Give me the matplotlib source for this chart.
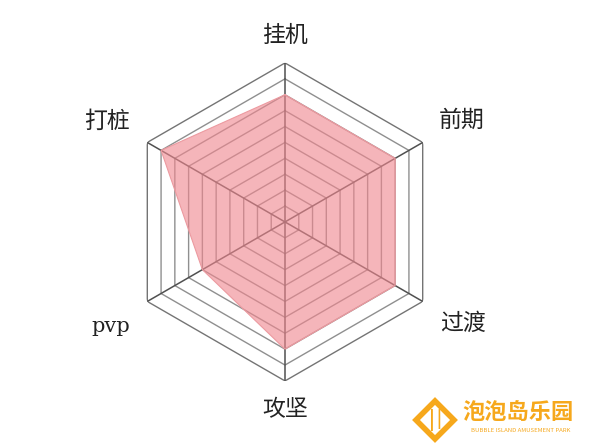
import numpy as np
import matplotlib.pyplot as plt
from matplotlib.patches import Polygon
from matplotlib.font_manager import FontProperties

labels = ["挂机", "前期", "过渡", "攻坚", "pvp", "打桩"]
values = [8, 8, 8, 8, 6, 9]
levels = list(range(1, 11))
r_max = 10

plt.rcParams['font.family'] = ['Noto Sans CJK SC', 'DejaVu Sans']

fig = plt.figure(figsize=(6, 4.43), dpi=100)
ax = fig.add_axes([0.21, 0.14, 0.53, 0.718], projection='polar')
ax.set_theta_offset(np.pi / 2)
ax.set_theta_direction(-1)
ax.set_ylim(0, r_max)
ax.grid(False)
ax.set_xticks([])
ax.set_yticks([])
ax.spines['polar'].set_visible(False)
ax.patch.set_alpha(0)

theta = np.arange(len(labels)) * 2 * np.pi / len(labels)
theta_closed = np.append(theta, theta[0])

# hexagon rings
for lv in levels:
    col = '#8f8f8f' if lv < r_max else '#747474'
    ax.plot(theta_closed, [lv] * len(theta_closed), color=col, lw=1.0, zorder=1)

# spokes
for t in theta:
    ax.plot([t, t], [0, r_max], color='#505050', lw=1.1, zorder=1)

vals = values + values[:1]
ax.fill(theta_closed, vals, color='#f08890', alpha=0.62, zorder=2, lw=0)
ax.plot(theta_closed, vals, color='#ec9aa0', lw=0.8, zorder=3)

# axis labels (placed in pixel positions like the original)
label_pos = {
    "挂机": (285, 35), "前期": (462, 120), "过渡": (463, 323),
    "攻坚": (285, 410), "pvp": (111, 327), "打桩": (107, 121),
}
serif = FontProperties(family='DejaVu Serif', size=15)
for lab in labels:
    x, y = label_pos[lab]
    if lab == "pvp":
        fig.text(x / 600, 1 - y / 443, lab, ha='center', va='center',
                 fontproperties=serif, color='#222222')
    else:
        fig.text(x / 600, 1 - y / 443, lab, ha='center', va='center',
                 fontsize=16.5, color='#222222')

# watermark
orange = '#f6a81c'
cx, cy, s = 435 / 600, 1 - 420 / 443, 19
diamond = Polygon([(cx - s / 600, cy), (cx, cy + s / 443), (cx + s / 600, cy), (cx, cy - s / 443)],
                  closed=True, fill=False, edgecolor=orange, lw=4, transform=fig.transFigure)
fig.patches.append(diamond)
fig.text(cx - 3 / 600, cy, '|', color=orange, fontsize=14, ha='center', va='center', weight='bold')
fig.text(cx + 4 / 600, cy + 1 / 443, '|', color=orange, fontsize=12, ha='center', va='center', weight='bold')
fig.text(518 / 600, 1 - 412 / 443, '泡泡岛乐园', color=orange, fontsize=16,
         ha='center', va='center', weight='bold')
fig.text(521 / 600, 1 - 430 / 443, 'BUBBLE ISLAND AMUSEMENT PARK', color=orange,
         fontsize=4.3, ha='center', va='center')

fig.savefig('out.png', dpi=100)
